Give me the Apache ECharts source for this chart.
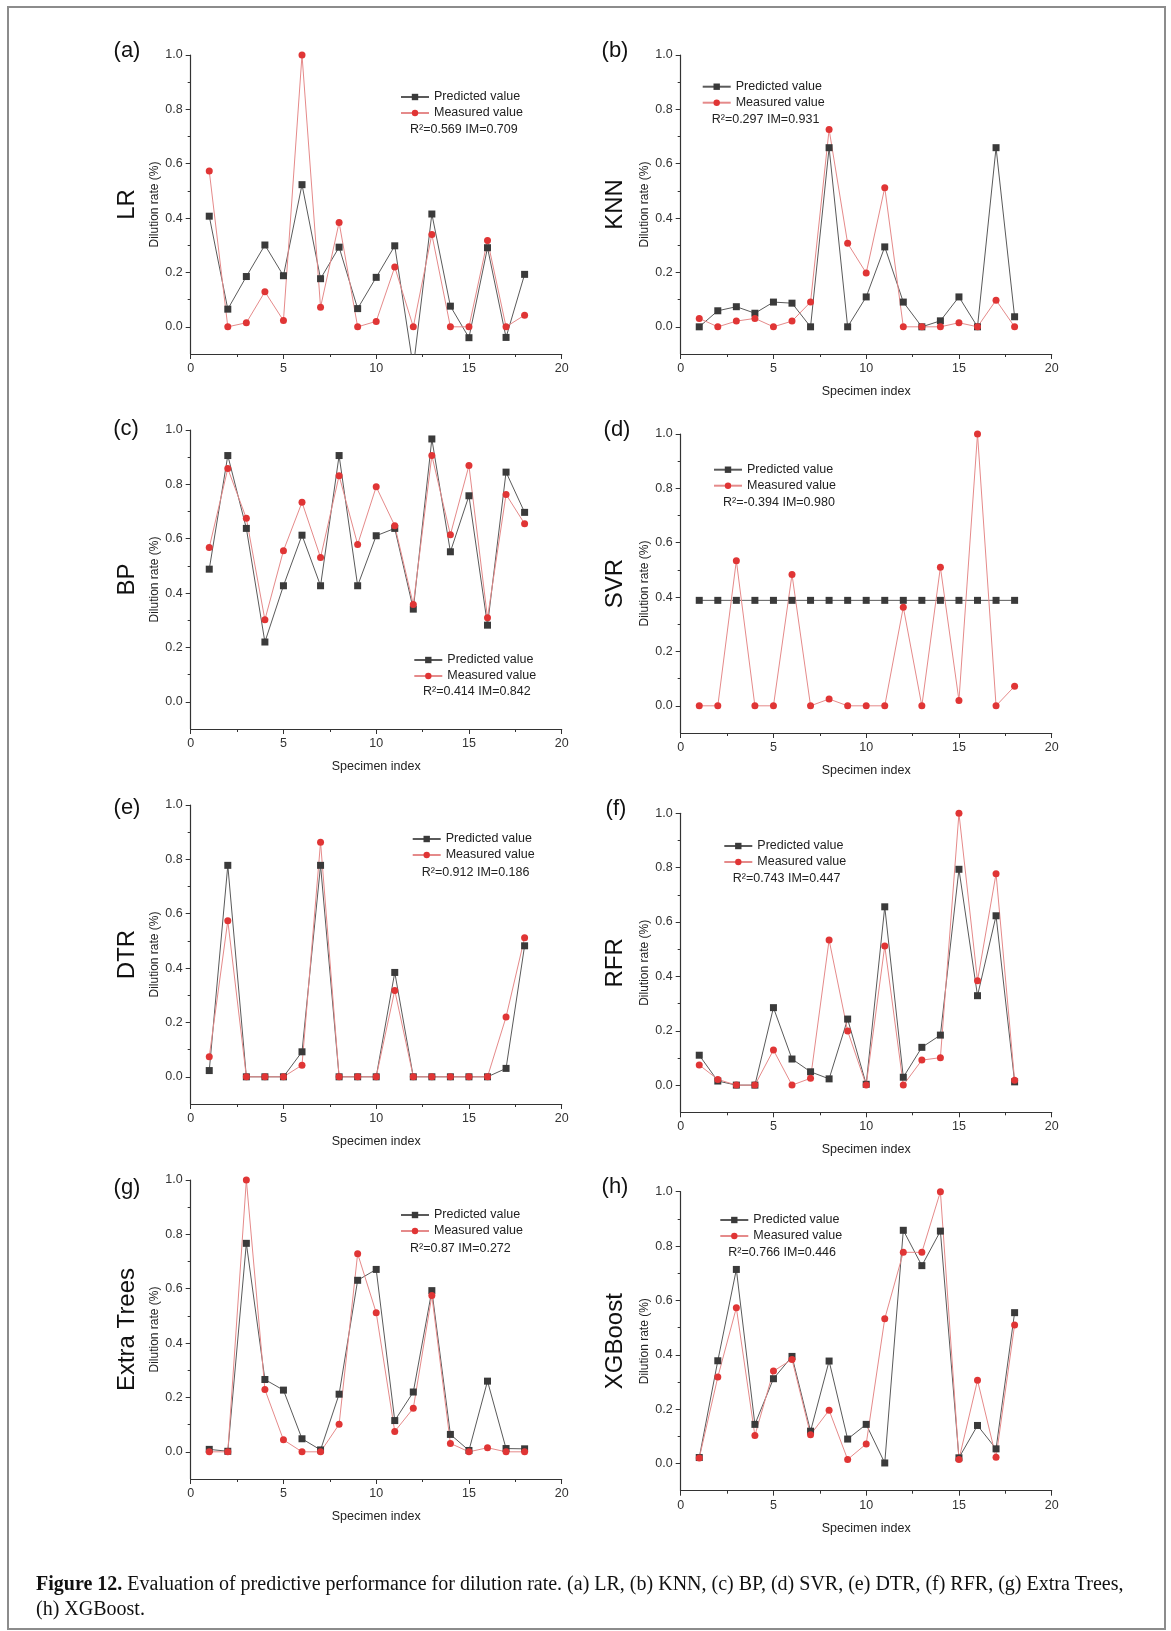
<!DOCTYPE html>
<html>
<head>
<meta charset="utf-8">
<script src="https://cdn.jsdelivr.net/npm/echarts@6/dist/echarts.min.js"></script>
<style>
html, body { margin: 0; padding: 0; background: #fff; }
#chart { width: 1171px; height: 1631px; }
</style>
</head>
<body>
<div id="chart"></div>
<script>
var specimenIndex = [1, 2, 3, 4, 5, 6, 7, 8, 9, 10, 11, 12, 13, 14, 15, 16, 17, 18];

var lrPredicted  = [0.407, 0.065, 0.185, 0.301, 0.188, 0.523, 0.177, 0.293, 0.067, 0.182, 0.298, -0.15, 0.415, 0.076, -0.040, 0.291, -0.039, 0.193];
var lrMeasured   = [0.573, 0.0, 0.015, 0.129, 0.023, 1.0, 0.072, 0.384, 0.0, 0.020, 0.220, 0.0, 0.340, 0.0, 0.0, 0.318, 0.0, 0.043];
var knnPredicted = [0.0, 0.059, 0.074, 0.050, 0.091, 0.087, 0.0, 0.659, 0.0, 0.110, 0.294, 0.091, 0.0, 0.022, 0.110, 0.0, 0.659, 0.037];
var knnMeasured  = [0.031, 0.0, 0.021, 0.031, 0.0, 0.021, 0.091, 0.726, 0.307, 0.198, 0.512, 0.0, 0.0, 0.0, 0.015, 0.0, 0.098, 0.0];
var bpPredicted  = [0.488, 0.906, 0.638, 0.220, 0.427, 0.613, 0.427, 0.906, 0.427, 0.611, 0.638, 0.341, 0.967, 0.552, 0.758, 0.282, 0.845, 0.697];
var bpMeasured   = [0.568, 0.858, 0.675, 0.302, 0.556, 0.734, 0.531, 0.832, 0.579, 0.791, 0.648, 0.358, 0.906, 0.615, 0.869, 0.309, 0.763, 0.655];
var svrPredicted = [0.388, 0.388, 0.388, 0.388, 0.388, 0.388, 0.388, 0.388, 0.388, 0.388, 0.388, 0.388, 0.388, 0.388, 0.388, 0.388, 0.388, 0.388];
var svrMeasured  = [0.0, 0.0, 0.534, 0.0, 0.0, 0.483, 0.0, 0.025, 0.0, 0.0, 0.0, 0.363, 0.0, 0.510, 0.020, 1.0, 0.0, 0.072];
var dtrPredicted = [0.023, 0.778, 0.0, 0.0, 0.0, 0.092, 0.778, 0.0, 0.0, 0.0, 0.384, 0.0, 0.0, 0.0, 0.0, 0.0, 0.031, 0.482];
var dtrMeasured  = [0.074, 0.574, 0.0, 0.0, 0.0, 0.043, 0.863, 0.0, 0.0, 0.0, 0.318, 0.0, 0.0, 0.0, 0.0, 0.0, 0.220, 0.512];
var rfrPredicted = [0.110, 0.015, 0.0, 0.0, 0.285, 0.096, 0.049, 0.023, 0.243, 0.003, 0.656, 0.029, 0.139, 0.184, 0.794, 0.329, 0.623, 0.012];
var rfrMeasured  = [0.074, 0.021, 0.0, 0.0, 0.129, 0.0, 0.025, 0.534, 0.199, 0.0, 0.512, 0.0, 0.092, 0.101, 1.0, 0.384, 0.778, 0.018];
var etPredicted  = [0.009, 0.002, 0.767, 0.266, 0.227, 0.048, 0.007, 0.212, 0.631, 0.671, 0.115, 0.220, 0.593, 0.064, 0.005, 0.260, 0.012, 0.011];
var etMeasured   = [0.0, 0.0, 1.0, 0.229, 0.044, 0.0, 0.0, 0.101, 0.729, 0.512, 0.075, 0.160, 0.575, 0.031, 0.0, 0.015, 0.0, 0.0];
var xgbPredicted = [0.022, 0.378, 0.714, 0.144, 0.312, 0.394, 0.119, 0.377, 0.090, 0.144, 0.002, 0.858, 0.728, 0.855, 0.021, 0.140, 0.054, 0.555];
var xgbMeasured  = [0.020, 0.318, 0.573, 0.103, 0.340, 0.383, 0.106, 0.196, 0.015, 0.072, 0.533, 0.777, 0.777, 1.0, 0.015, 0.306, 0.023, 0.510];

var modelNames   = ['LR', 'KNN', 'BP', 'SVR', 'DTR', 'RFR', 'Extra Trees', 'XGBoost'];
var panelLetters = ['(a)', '(b)', '(c)', '(d)', '(e)', '(f)', '(g)', '(h)'];
var metricTexts  = ['R²=0.569 IM=0.709', 'R²=0.297 IM=0.931', 'R²=0.414 IM=0.842', 'R²=-0.394 IM=0.980',
                    'R²=0.912 IM=0.186', 'R²=0.743 IM=0.447', 'R²=0.87 IM=0.272', 'R²=0.766 IM=0.446'];
var predictedSets = [lrPredicted, knnPredicted, bpPredicted, svrPredicted, dtrPredicted, rfrPredicted, etPredicted, xgbPredicted];
var measuredSets  = [lrMeasured, knnMeasured, bpMeasured, svrMeasured, dtrMeasured, rfrMeasured, etMeasured, xgbMeasured];

var yLabelTicks = [0, 0.2, 0.4, 0.6, 0.8, 1.0];
var yMinorTicks = [0.1, 0.3, 0.5, 0.7, 0.9];

// where each small chart sits on the page
var panelLayout = [
    {left: 190.7, top: 55,     letterX: 127, letterY: 51,   labelX: 127, legendX: 400,   legendY: 97,    r2X: 410,   r2Y: 130},
    {left: 680.7, top: 55,     letterX: 615, letterY: 51,   labelX: 615, legendX: 701.7, legendY: 86.7,  r2X: 711.7, r2Y: 120},
    {left: 190.7, top: 430,    letterX: 126, letterY: 429,  labelX: 127, legendX: 413.3, legendY: 660,   r2X: 423,   r2Y: 691.7},
    {left: 680.7, top: 434,    letterX: 617, letterY: 430,  labelX: 615, legendX: 713,   legendY: 469.7, r2X: 723,   r2Y: 502.3},
    {left: 190.7, top: 805,    letterX: 127, letterY: 808,  labelX: 127, legendX: 411.7, legendY: 839,   r2X: 421.7, r2Y: 872.3},
    {left: 680.7, top: 813.3,  letterX: 616, letterY: 809,  labelX: 615, legendX: 723.3, legendY: 846,   r2X: 732.7, r2Y: 878.3},
    {left: 190.7, top: 1180,   letterX: 127, letterY: 1188, labelX: 127, legendX: 400,   legendY: 1215,  r2X: 410,   r2Y: 1248.3},
    {left: 680.7, top: 1191.7, letterX: 615, letterY: 1187, labelX: 615, legendX: 719.3, legendY: 1220,  r2X: 728.3, r2Y: 1252.3}
];
var plotW = 371, plotH = 299;
var sans = '"Liberation Sans", Arial, sans-serif';
var serif = '"Liberation Serif", "Times New Roman", serif';
var axisColor = '#333';

var grids = [], xAxes = [], yAxes = [], series = [], legends = [], graphics = [];

panelLayout.forEach(function(p, i) {
    grids.push({left: p.left, top: p.top, width: plotW, height: plotH, containLabel: false});

    xAxes.push({
        gridIndex: i, type: 'value', min: 0, max: 20, interval: 5,
        axisLine: {onZero: false, lineStyle: {color: axisColor, width: 1.2}},
        axisTick: {length: 5, lineStyle: {color: axisColor}},
        minorTick: {show: true, splitNumber: 2, length: 3, lineStyle: {color: axisColor}},
        axisLabel: {fontSize: 12.5, color: axisColor, margin: 8, fontFamily: sans},
        splitLine: {show: false},
        name: i === 0 ? '' : 'Specimen index',
        nameLocation: 'middle', nameGap: 31,
        nameTextStyle: {fontSize: 12.5, color: '#222', fontFamily: sans}
    });

    yAxes.push({
        gridIndex: i, type: 'value', position: 'left', min: -0.1, max: 1, interval: 0.1,
        axisLine: {show: true, onZero: false, lineStyle: {color: axisColor, width: 1.2}},
        axisTick: {show: true, length: 5, customValues: yLabelTicks, lineStyle: {color: axisColor}},
        axisLabel: {
            customValues: yLabelTicks, fontSize: 12.5, color: axisColor, margin: 8, fontFamily: sans,
            formatter: function(v) { return v.toFixed(1); }
        },
        splitLine: {show: false},
        name: 'Dilution rate (%)', nameLocation: 'middle', nameGap: 30, nameRotate: 90,
        nameTextStyle: {fontSize: 12, color: '#222', fontFamily: sans}
    });
    // second axis only for the short in-between ticks
    yAxes.push({
        gridIndex: i, type: 'value', position: 'left', min: -0.1, max: 1, interval: 0.1,
        axisLine: {show: false, onZero: false},
        axisTick: {show: true, length: 3, customValues: yMinorTicks, lineStyle: {color: axisColor}},
        axisLabel: {show: false},
        splitLine: {show: false}
    });

    series.push({
        name: 'Predicted value', type: 'line', xAxisIndex: i, yAxisIndex: i * 2,
        data: specimenIndex.map(function(x, k) { return [x, predictedSets[i][k]]; }),
        symbol: 'rect', symbolSize: 7, clip: true,
        lineStyle: {color: '#5a5a5a', width: 1},
        itemStyle: {color: '#3a3a3a'}
    });
    series.push({
        name: 'Measured value', type: 'line', xAxisIndex: i, yAxisIndex: i * 2,
        data: specimenIndex.map(function(x, k) { return [x, measuredSets[i][k]]; }),
        symbol: 'circle', symbolSize: 7, clip: true,
        lineStyle: {color: '#e58a8a', width: 1},
        itemStyle: {color: '#e03535'}
    });

    legends.push({
        left: p.legendX, top: p.legendY - 8, orient: 'vertical', padding: 0, itemGap: 0,
        itemWidth: 28, itemHeight: 8, selectedMode: false,
        data: ['Predicted value', 'Measured value'],
        textStyle: {fontSize: 12.5, lineHeight: 16, color: '#222', fontFamily: sans}
    });

    graphics.push({
        type: 'text', x: p.letterX, y: p.letterY, silent: true,
        style: {text: panelLetters[i], font: '22px ' + sans, fill: '#111',
                textAlign: 'center', textVerticalAlign: 'middle', align: 'center', verticalAlign: 'middle'}
    });
    graphics.push({
        type: 'text', x: p.labelX, y: p.top + plotH / 2, rotation: Math.PI / 2, silent: true,
        style: {text: modelNames[i], font: '24px ' + sans, fill: '#111',
                textAlign: 'center', textVerticalAlign: 'middle', align: 'center', verticalAlign: 'middle'}
    });
    graphics.push({
        type: 'text', x: p.r2X, y: p.r2Y, silent: true,
        style: {text: metricTexts[i], font: '12.5px ' + sans, fill: '#222',
                textAlign: 'left', textVerticalAlign: 'middle', align: 'left', verticalAlign: 'middle'}
    });
});

// frame and caption
graphics.push({
    type: 'rect', silent: true, shape: {x: 8, y: 7, width: 1157, height: 1622},
    style: {fill: 'none', stroke: '#8c8c8c', lineWidth: 2}
});
graphics.push({
    type: 'text', x: 36, y: 1585, silent: true,
    style: {
        text: '{b|Figure 12.} Evaluation of predictive performance for dilution rate. (a) LR, (b) KNN, (c) BP, (d) SVR, (e) DTR, (f) RFR, (g) Extra Trees,',
        font: '20px ' + serif, fill: '#111', textVerticalAlign: 'middle', verticalAlign: 'middle',
        rich: {b: {fontWeight: 'bold', fontSize: 20, fontFamily: serif, fill: '#111'}}
    }
});
graphics.push({
    type: 'text', x: 36, y: 1610, silent: true,
    style: {text: '(h) XGBoost.', font: '20px ' + serif, fill: '#111', textVerticalAlign: 'middle', verticalAlign: 'middle'}
});

var chart = echarts.init(document.getElementById('chart'));
chart.setOption({
    animation: false,
    backgroundColor: '#fff',
    grid: grids,
    xAxis: xAxes,
    yAxis: yAxes,
    legend: legends,
    series: series,
    graphic: graphics
});
</script>
</body>
</html>
